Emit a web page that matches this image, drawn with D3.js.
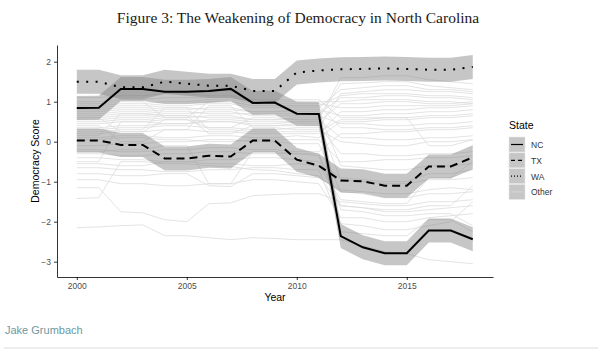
<!DOCTYPE html>
<html>
<head>
<meta charset="utf-8">
<script src="https://cdn.jsdelivr.net/npm/d3@7"></script>
<style type="text/css">
  body{
    margin: 0px;
    background: white;
    font-family: 'Liberation Sans', Arial, sans-serif;
  }
  .axis path, .axis line {
    stroke: black;
    stroke-width: 0.8px;
  }
  .axis text {
    fill: #4d4d4d;
    font-size: 8.5px;
    font-family: 'Liberation Sans', Arial, sans-serif;
  }
</style>
</head>
<body>
<svg id="chart" width="600" height="352"></svg>
<script>

var years = d3.range(2000, 2019);

var ncValues = [0.84, 0.85, 1.32, 1.32, 1.25, 1.25, 1.27, 1.32, 0.97, 0.98, 0.70, 0.69, -2.36, -2.64, -2.79, -2.79, -2.22, -2.22, -2.44];
var txValues = [0.03, 0.03, -0.08, -0.08, -0.42, -0.42, -0.35, -0.37, 0.03, 0.03, -0.45, -0.60, -0.97, -0.99, -1.10, -1.10, -0.62, -0.62, -0.39];
var waValues = [1.50, 1.50, 1.36, 1.36, 1.50, 1.45, 1.40, 1.40, 1.27, 1.27, 1.73, 1.78, 1.81, 1.82, 1.83, 1.82, 1.80, 1.80, 1.87];

// half width of the grey band round each highlighted state
var ribbonHalf = 0.3;

var otherValues = [
  [-2.15,-2.13,-2.10,-2.08,-2.35,-2.35,-2.40,-2.45,-2.40,-2.42,-2.45,-2.45,-2.45,-2.60,-2.75,-2.80,-2.95,-3.00,-3.05],
  [-1.15,-1.15,-1.75,-1.78,-1.95,-2.00,-1.55,-1.53,-1.35,-1.32,-1.30,-1.30,-1.50,-1.55,-1.60,-1.60,-1.50,-1.50,-1.45],
  [-1.42,-1.40,-0.50,-0.50,-0.55,-0.55,-0.60,-0.62,-0.70,-0.72,-0.80,-0.85,-1.60,-1.65,-1.75,-1.75,-1.70,-1.65,-1.60],
  [-0.95,-0.95,-1.05,-1.05,-1.10,-1.10,-1.05,-1.05,-0.95,-0.95,-1.00,-1.05,-1.90,-1.90,-2.00,-2.00,-1.90,-1.85,-1.80],
  [-0.80,-0.80,-0.85,-0.85,-0.80,-0.80,-1.10,-1.12,-0.80,-0.80,-0.85,-0.90,-1.20,-1.25,-1.30,-1.30,-1.20,-1.15,-1.20],
  [-0.65,-0.65,-0.70,-0.70,-0.75,-0.75,-0.70,-0.70,-0.65,-0.65,-0.70,-0.70,-2.05,-2.10,-2.20,-2.20,-2.10,-2.00,-1.50],
  [-0.55,-0.55,-0.60,-0.60,-0.50,-0.50,-0.55,-0.55,-0.60,-0.60,-0.55,-0.60,-1.45,-1.50,-1.55,-1.55,-0.90,-0.90,-0.50],
  [-0.40,-0.40,-0.45,-0.45,-0.50,-0.50,-0.45,-0.45,-0.40,-0.40,-0.45,-0.50,-0.90,-0.95,-1.00,-1.00,-0.80,-0.80,-0.70],
  [-0.30,-0.30,-0.35,-0.35,-0.30,-0.30,-0.25,-0.25,-0.30,-0.30,-0.30,-0.35,-1.70,-1.75,-1.85,-1.85,-1.80,-1.80,-2.10],
  [-0.20,-0.20,-0.25,-0.25,-0.20,-0.20,-0.15,-0.15,-0.20,-0.20,-0.25,-0.25,0.20,0.20,0.25,0.25,0.30,0.30,0.35],
  [-0.10,-0.10,-0.05,-0.05,0.00,0.00,0.05,0.05,0.00,0.00,-0.05,-0.05,-1.25,-1.30,-1.40,-1.40,-1.30,-1.30,-1.25],
  [0.10,0.10,0.15,0.15,0.10,0.10,0.15,0.15,0.10,0.10,0.15,0.10,0.50,0.50,0.55,0.55,0.60,0.60,0.65],
  [0.20,0.20,0.25,0.25,0.30,0.30,0.25,0.25,0.20,0.20,0.20,0.20,0.75,0.75,0.80,0.80,0.85,0.85,0.90],
  [0.30,0.30,0.35,0.35,0.40,0.40,0.35,0.35,0.30,0.30,0.35,0.35,1.20,1.25,1.30,1.30,1.25,1.25,1.20],
  [0.35,0.35,0.40,0.40,0.45,0.45,0.50,0.50,0.40,0.40,0.40,0.40,-0.30,-0.30,-0.35,-0.35,-0.30,-0.30,-0.25],
  [0.45,0.45,0.50,0.50,0.55,0.55,0.50,0.50,0.45,0.45,0.50,0.50,0.95,0.95,1.00,1.00,0.95,0.95,1.00],
  [0.50,0.50,0.55,0.55,0.60,0.60,0.65,0.65,0.55,0.55,0.55,0.55,0.10,0.10,0.05,0.05,0.10,0.10,0.15],
  [0.55,0.55,0.60,0.60,0.65,0.65,0.60,0.60,0.55,0.55,0.60,0.60,1.45,1.47,1.50,1.50,1.40,1.35,1.30],
  [0.60,0.60,0.65,0.65,0.70,0.70,0.75,0.75,0.65,0.65,0.65,0.65,0.45,0.45,0.40,0.40,0.45,0.45,0.50],
  [0.65,0.65,0.70,0.70,0.75,0.75,0.70,0.70,0.70,0.70,0.70,0.70,1.10,1.10,1.15,1.15,1.10,1.10,1.05],
  [0.70,0.70,0.75,0.75,0.80,0.80,0.85,0.85,0.75,0.75,0.75,0.75,-0.60,-0.65,-0.70,-0.70,-0.60,-0.60,-0.55],
  [0.75,0.75,0.80,0.80,0.85,0.85,0.80,0.80,0.75,0.75,0.80,0.80,0.65,0.65,0.70,0.70,0.75,0.75,0.80],
  [0.80,0.80,0.85,0.85,0.90,0.90,0.95,0.95,0.85,0.85,0.85,0.85,1.30,1.35,1.40,1.40,1.30,1.30,1.25],
  [0.85,0.85,0.90,0.90,0.95,0.95,1.00,1.00,0.90,0.90,0.90,0.90,0.35,0.35,0.30,0.30,0.35,0.35,0.40],
  [0.90,0.90,0.95,0.95,1.00,1.00,1.05,1.05,0.95,0.95,0.95,0.95,0.85,0.85,0.90,0.90,0.90,0.90,0.95],
  [1.00,1.00,1.05,1.05,1.10,1.10,1.10,1.10,1.00,1.00,1.00,1.00,1.00,1.05,1.05,1.05,1.00,1.00,0.95],
  [1.10,1.10,1.15,1.15,1.20,1.20,1.15,1.15,1.05,1.05,1.05,1.05,0.60,0.60,0.60,0.60,0.65,0.65,0.70],
  [0.15,0.15,0.70,0.70,0.65,0.65,0.20,0.20,0.40,0.40,0.45,0.45,-0.95,-1.00,-1.05,-1.05,-0.95,-0.95,-0.90],
  [0.40,0.40,0.00,0.00,0.30,0.30,0.90,0.90,0.35,0.35,0.30,0.30,0.00,-0.05,-0.10,-0.10,0.00,0.00,0.05],
  [0.60,0.60,0.25,0.25,0.55,0.55,0.35,0.35,0.60,0.60,0.55,0.55,1.60,1.60,1.65,1.65,1.55,1.50,1.45],
  [-0.50,-0.50,0.50,0.50,0.45,0.45,0.55,0.55,0.50,0.50,0.50,0.50,-2.25,-2.30,-2.35,-2.35,-1.95,-1.95,-2.25],
  [0.05,0.05,0.10,0.10,0.05,0.05,0.00,0.00,0.05,0.05,0.05,0.05,-0.50,-0.50,-0.45,-0.45,-0.40,-0.40,-0.35],
  [0.25,0.25,0.30,0.30,0.85,0.85,0.30,0.30,0.25,0.25,0.25,0.25,0.55,0.55,0.60,0.60,-0.10,-0.10,0.05],
  [-0.25,-0.25,-0.20,-0.20,-0.10,-0.10,-1.05,-1.05,-0.25,-0.25,-0.30,-0.30,-1.60,-1.65,-1.70,-1.70,-1.60,-1.60,-1.10],
  [0.95,0.95,1.00,1.00,0.60,0.60,1.00,1.00,0.90,0.90,0.90,0.90,1.15,1.20,1.20,1.20,1.15,1.15,1.10]
];

var xTicks = [2000, 2005, 2010, 2015];
var yTicks = [-3, -2, -1, 0, 1, 2];

var states = [
  { name: 'NC', values: ncValues, dash: null },
  { name: 'TX', values: txValues, dash: '8,5' },
  { name: 'WA', values: waValues, dash: '2,7.4' }
];
var legendNames = ['NC', 'TX', 'WA', 'Other'];
var legendDash = [null, '4,3', '1,2', null];

var ribbonFill = '#808080';
var ribbonOpacity = 0.45;
var otherColor = '#dcdcdc';

var svg = d3.select('#chart');

var panel = { left: 57, right: 493, top: 45, bottom: 277 };

var x = d3.scaleLinear().domain([1999.1, 2018.92]).range([panel.left, panel.right]);
var y = d3.scaleLinear().domain([-3.3825, 2.4175]).range([panel.bottom, panel.top]);

// title
svg.append('text')
  .attr('x', 298)
  .attr('y', 23)
  .attr('text-anchor', 'middle')
  .style('font-family', "'Liberation Serif', 'DejaVu Serif', serif")
  .style('font-size', '15.5px')
  .style('fill', '#1a1a1a')
  .text('Figure 3: The Weakening of Democracy in North Carolina');

var line = d3.line()
  .x(function(d, i) { return x(years[i]); })
  .y(function(d) { return y(d); });

var band = d3.area()
  .x(function(d, i) { return x(years[i]); })
  .y0(function(d) { return y(d - ribbonHalf); })
  .y1(function(d) { return y(d + ribbonHalf); });

// other states
svg.append('g').selectAll('path')
  .data(otherValues)
  .enter()
  .append('path')
  .attr('d', line)
  .attr('fill', 'none')
  .attr('stroke', otherColor)
  .attr('stroke-width', 0.8);

// ribbons
svg.append('g').selectAll('path')
  .data(states)
  .enter()
  .append('path')
  .attr('d', function(d) { return band(d.values); })
  .attr('fill', ribbonFill)
  .attr('fill-opacity', ribbonOpacity);

// highlighted lines
svg.append('g').selectAll('path')
  .data(states)
  .enter()
  .append('path')
  .attr('d', function(d) { return line(d.values); })
  .attr('fill', 'none')
  .attr('stroke', 'black')
  .attr('stroke-width', 2)
  .attr('stroke-dasharray', function(d) { return d.dash; });

// axes
svg.append('g')
  .attr('class', 'axis')
  .attr('transform', 'translate(0,' + panel.bottom + ')')
  .call(d3.axisBottom(x).tickValues(xTicks).tickFormat(d3.format('d')).tickSize(3).tickSizeOuter(0).tickPadding(3));

svg.append('g')
  .attr('class', 'axis')
  .attr('transform', 'translate(' + panel.left + ',0)')
  .call(d3.axisLeft(y).tickValues(yTicks).tickFormat(d3.format('d')).tickSize(3).tickSizeOuter(0).tickPadding(3));

svg.selectAll('.axis text').attr('fill', '#4d4d4d');

svg.append('text')
  .attr('x', (panel.left + panel.right) / 2)
  .attr('y', 301)
  .attr('text-anchor', 'middle')
  .style('font-size', '10.5px')
  .style('fill', 'black')
  .text('Year');

svg.append('text')
  .attr('transform', 'translate(39,' + ((panel.top + panel.bottom) / 2) + ') rotate(-90)')
  .attr('text-anchor', 'middle')
  .style('font-size', '10.5px')
  .style('fill', 'black')
  .text('Democracy Score');

// legend
var legend = svg.append('g').attr('transform', 'translate(509,119)');

legend.append('text')
  .attr('x', 0)
  .attr('y', 10)
  .style('font-size', '10.5px')
  .style('fill', 'black')
  .text('State');

var key = legend.selectAll('.key')
  .data(legendNames)
  .enter()
  .append('g')
  .attr('class', 'key')
  .attr('transform', function(d, i) { return 'translate(0,' + (18 + i * 15.8) + ')'; });

key.append('rect')
  .attr('width', 16)
  .attr('height', 15)
  .attr('fill', '#c6c6c6')
  .attr('stroke', '#e6e6e6')
  .attr('stroke-width', 0.6);

key.append('line')
  .attr('x1', 2)
  .attr('x2', 14)
  .attr('y1', 7.5)
  .attr('y2', 7.5)
  .attr('stroke', function(d) { return d === 'Other' ? otherColor : 'black'; })
  .attr('stroke-width', function(d) { return d === 'Other' ? 0.8 : 1.2; })
  .attr('stroke-dasharray', function(d, i) { return legendDash[i]; });

key.append('text')
  .attr('x', 22)
  .attr('y', 11)
  .style('font-size', '8.5px')
  .style('fill', '#333')
  .text(function(d) { return d; });

// footer
svg.append('text')
  .attr('x', 5)
  .attr('y', 334)
  .style('font-size', '11px')
  .style('fill', '#6e98a0')
  .text('Jake Grumbach');

svg.append('line')
  .attr('x1', 4)
  .attr('x2', 598)
  .attr('y1', 348)
  .attr('y2', 348)
  .attr('stroke', '#dcdcdc')
  .attr('stroke-width', 1);

</script>
</body>
</html>
